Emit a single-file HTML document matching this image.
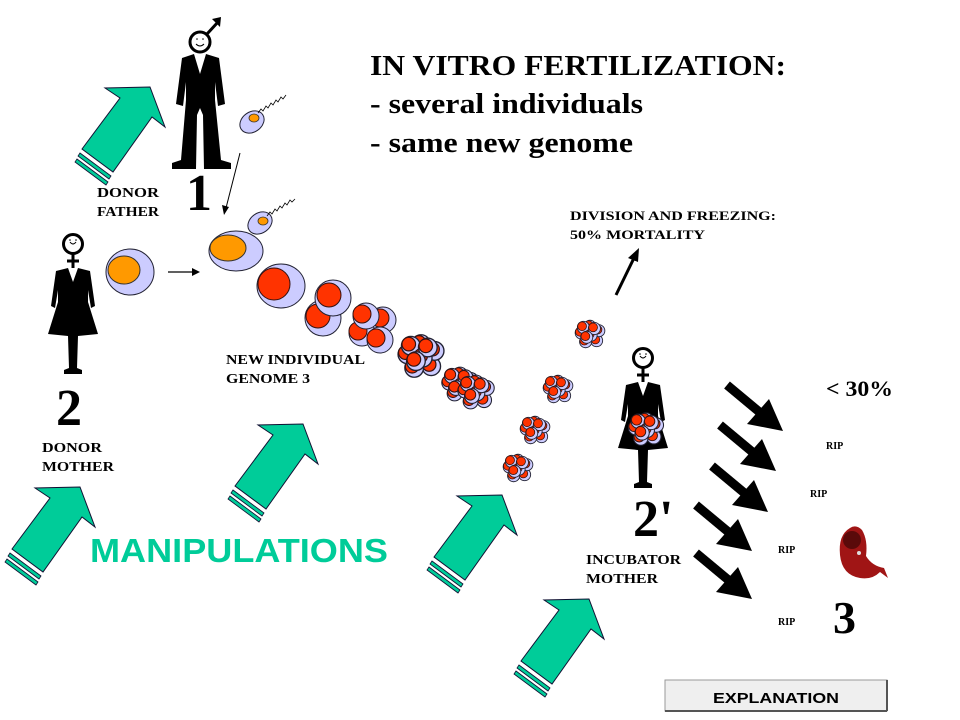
<!DOCTYPE html>
<html><head><meta charset="utf-8"><style>
html,body{margin:0;padding:0;background:#fff;}
svg{display:block;}
.t{font-family:"Liberation Serif",serif;font-weight:bold;fill:#000;}
</style></head><body>
<svg width="960" height="720" viewBox="0 0 960 720" xmlns="http://www.w3.org/2000/svg">
<defs>
  <g id="garrow" stroke="#113" stroke-width="1">
    <polygon points="12,549 50,498 35,488 80,487 95,527 82,517 43,572" fill="#00cc99"/>
    <polygon points="10,553 41,576 39,579 8,556" fill="#00cc99" stroke-width="0.8"/>
    <polygon points="7,559 38,582 36,585 5,562" fill="#00cc99" stroke-width="0.8"/>
  </g>
  <g id="fem">
    <circle cx="0" cy="0" r="9.5" fill="#fff" stroke="#000" stroke-width="3"/>
    <path d="M-3,-2 Q0,2 3,-2" fill="none" stroke="#000" stroke-width="1"/>
    <circle cx="-3" cy="-4" r="0.8"/><circle cx="3" cy="-4" r="0.8"/>
    <line x1="0" y1="10" x2="0" y2="24" stroke="#000" stroke-width="3"/>
    <line x1="-6" y1="17" x2="6" y2="17" stroke="#000" stroke-width="3"/>
    <path d="M-5,24 L0,38 L5,24 L17,27 L22,62 L18,64 L15,46 L15,58 L25,90 L5,92 L4,124 L9,126 L9,130 L-9,130 L-9,126 L-4,124 L-5,92 L-25,90 L-15,58 L-15,46 L-18,64 L-22,62 L-17,27 Z" fill="#000"/>
  </g>
  <g id="mini"><circle r="5.5" fill="#ccccff" stroke="#223" stroke-width="0.8"/><circle cx="-1.2" cy="-1" r="4" fill="#ff3300" stroke="#311" stroke-width="0.7"/></g>
  <g id="clu">
    <use href="#mini" x="6" y="6"/><use href="#mini" x="-4" y="7"/><use href="#mini" x="8" y="-3"/>
    <use href="#mini" x="-8" y="-1"/><use href="#mini" x="0" y="-7"/><use href="#mini" x="-6" y="-6"/>
    <use href="#mini" x="1" y="1"/><use href="#mini" x="4" y="-5"/><use href="#mini" x="-3" y="3"/>
  </g>
  <g id="barr"><line x1="0" y1="0" x2="36" y2="30" stroke="#000" stroke-width="9"/><polygon points="56,46 20,39 42,14" fill="#000"/></g>
</defs>

<use href="#garrow" x="70" y="-400"/>
<use href="#garrow" x="0" y="0"/>
<use href="#garrow" x="223" y="-63"/>
<use href="#garrow" x="422" y="8"/>
<use href="#garrow" x="509" y="112"/>

<!-- male -->
<g>
  <circle cx="200" cy="42" r="10" fill="#fff" stroke="#000" stroke-width="3"/>
  <path d="M196,44 Q200,48 204,44" fill="none" stroke="#000" stroke-width="1"/>
  <circle cx="197" cy="39" r="0.8"/><circle cx="203" cy="39" r="0.8"/>
  <line x1="207" y1="34" x2="218" y2="22" stroke="#000" stroke-width="3"/>
  <polygon points="221,17 212,19 220,27" fill="#000"/>
  <path d="M194,54 L200,74 L206,54 L219,58 L225,104 L218,106 L215,82 L215,100 L221,160 L231,163 L231,169 L204,169 L203,115 L200,108 L197,115 L196,169 L172,169 L172,163 L181,160 L186,100 L186,82 L183,106 L176,104 L182,58 Z" fill="#000"/>
</g>
<use href="#fem" x="73" y="244"/>
<use href="#fem" x="643" y="358"/>

<!-- sperms -->
<ellipse cx="252" cy="122" rx="13" ry="10" transform="rotate(-35 252 122)" fill="#ccccff" stroke="#223"/>
<ellipse cx="254" cy="118" rx="5" ry="4" fill="#ff9900" stroke="#333" stroke-width="0.8"/>
<path d="M258,113 l3,-4 l2,2 l3,-5 l2,2 l3,-5 l2,2 l3,-5 l2,2 l3,-5 l2,2 l3,-4" fill="none" stroke="#000" stroke-width="0.8"/>
<ellipse cx="260" cy="223" rx="13" ry="10" transform="rotate(-35 260 223)" fill="#ccccff" stroke="#223"/>
<ellipse cx="263" cy="221" rx="5" ry="4" fill="#ff9900" stroke="#333" stroke-width="0.8"/>
<path d="M267,216 l3,-4 l2,2 l3,-5 l2,2 l3,-5 l2,2 l3,-5 l2,2 l3,-5 l2,2 l3,-3" fill="none" stroke="#000" stroke-width="0.8"/>

<ellipse cx="130" cy="272" rx="24" ry="23" fill="#ccccff" stroke="#223"/>
<ellipse cx="124" cy="270" rx="16" ry="14" fill="#ff9900" stroke="#333"/>
<ellipse cx="236" cy="251" rx="27" ry="20" fill="#ccccff" stroke="#223"/>
<ellipse cx="228" cy="248" rx="18" ry="13" fill="#ff9900" stroke="#333"/>
<ellipse cx="281" cy="286" rx="24" ry="22" fill="#ccccff" stroke="#223"/>
<circle cx="274" cy="284" r="16" fill="#ff3300" stroke="#311"/>
<circle cx="323" cy="318" r="18" fill="#ccccff" stroke="#223"/><circle cx="318" cy="316" r="12" fill="#ff3300" stroke="#311"/>
<circle cx="333" cy="298" r="18" fill="#ccccff" stroke="#223"/><circle cx="329" cy="295" r="12" fill="#ff3300" stroke="#311"/>
<circle cx="383" cy="320" r="13" fill="#ccccff" stroke="#223"/><circle cx="380" cy="318" r="9" fill="#ff3300" stroke="#311"/>
<circle cx="362" cy="333" r="13" fill="#ccccff" stroke="#223"/><circle cx="358" cy="331" r="9" fill="#ff3300" stroke="#311"/>
<circle cx="380" cy="340" r="13" fill="#ccccff" stroke="#223"/><circle cx="376" cy="338" r="9" fill="#ff3300" stroke="#311"/>
<circle cx="366" cy="316" r="13" fill="#ccccff" stroke="#223"/><circle cx="362" cy="314" r="9" fill="#ff3300" stroke="#311"/>
<g transform="translate(421,356) scale(1.7)"><use href="#clu"/></g>
<g transform="translate(460,384) scale(1.35)"><use href="#clu"/></g>
<g transform="translate(476,392) scale(1.35)"><use href="#clu"/></g>
<g transform="translate(590,334) scale(1.1)"><use href="#clu"/></g>
<g transform="translate(558,389) scale(1.1)"><use href="#clu"/></g>
<g transform="translate(535,430) scale(1.1)"><use href="#clu"/></g>
<g transform="translate(518,468) scale(1.1)"><use href="#clu"/></g>
<g transform="translate(646,429) scale(1.3)"><use href="#clu"/></g>

<line x1="240" y1="153" x2="226" y2="208" stroke="#000" stroke-width="1"/>
<polygon points="224,215 222,205 229,207" fill="#000"/>
<line x1="168" y1="272" x2="193" y2="272" stroke="#000" stroke-width="1.2"/>
<polygon points="200,272 192,268 192,276" fill="#000"/>
<line x1="616" y1="295" x2="634" y2="258" stroke="#000" stroke-width="3"/>
<polygon points="639,248 628,258 638,262" fill="#000"/>

<use href="#barr" x="727" y="385"/>
<use href="#barr" x="720" y="425"/>
<use href="#barr" x="712" y="466"/>
<use href="#barr" x="696" y="505"/>
<use href="#barr" x="696" y="553"/>

<!-- fetus -->
<g>
  <path d="M850,528 Q838,535 840,555 Q842,575 860,578 Q872,580 880,572 L888,578 L884,568 Q872,566 866,556 Q868,540 862,530 Q856,524 850,528 Z" fill="#a01515"/>
  <ellipse cx="852" cy="540" rx="9" ry="9" fill="#5a0a0a"/>
  <circle cx="859" cy="553" r="2" fill="#ddd"/>
</g>

<text class="t" x="370" y="75" font-size="28" textLength="416" lengthAdjust="spacingAndGlyphs">IN VITRO FERTILIZATION:</text>
<text class="t" x="370" y="113" font-size="28" textLength="273" lengthAdjust="spacingAndGlyphs">- several individuals</text>
<text class="t" x="370" y="152" font-size="28" textLength="263" lengthAdjust="spacingAndGlyphs">- same new genome</text>
<text class="t" x="97" y="197" font-size="14" textLength="62" lengthAdjust="spacingAndGlyphs">DONOR</text>
<text class="t" x="97" y="216" font-size="14" textLength="62" lengthAdjust="spacingAndGlyphs">FATHER</text>
<text class="t" x="186" y="210" font-size="52">1</text>
<text class="t" x="56" y="425" font-size="52">2</text>
<text class="t" x="42" y="452" font-size="14" textLength="60" lengthAdjust="spacingAndGlyphs">DONOR</text>
<text class="t" x="42" y="471" font-size="14" textLength="72" lengthAdjust="spacingAndGlyphs">MOTHER</text>
<text class="t" x="226" y="364" font-size="14" textLength="139" lengthAdjust="spacingAndGlyphs">NEW INDIVIDUAL</text>
<text class="t" x="226" y="383" font-size="14" textLength="84" lengthAdjust="spacingAndGlyphs">GENOME 3</text>
<text class="t" x="570" y="220" font-size="13" textLength="206" lengthAdjust="spacingAndGlyphs">DIVISION AND FREEZING:</text>
<text class="t" x="570" y="239" font-size="13" textLength="135" lengthAdjust="spacingAndGlyphs">50%  MORTALITY</text>
<text class="t" x="633" y="536" font-size="52">2'</text>
<text class="t" x="586" y="564" font-size="14" textLength="95" lengthAdjust="spacingAndGlyphs">INCUBATOR</text>
<text class="t" x="586" y="583" font-size="14" textLength="72" lengthAdjust="spacingAndGlyphs">MOTHER</text>
<text class="t" x="826" y="396" font-size="22" textLength="67" lengthAdjust="spacingAndGlyphs">&lt; 30%</text>
<text class="t" x="826" y="449" font-size="10">RIP</text>
<text class="t" x="810" y="497" font-size="10">RIP</text>
<text class="t" x="778" y="553" font-size="10">RIP</text>
<text class="t" x="778" y="625" font-size="10">RIP</text>
<text class="t" x="833" y="633" font-size="46">3</text>
<text x="90" y="562" font-family="Liberation Sans, sans-serif" font-weight="bold" font-size="33" fill="#00cc99" textLength="298" lengthAdjust="spacingAndGlyphs">MANIPULATIONS</text>

<rect x="665" y="680" width="222" height="31" fill="#efefef" stroke="#999"/>
<line x1="665" y1="711" x2="887" y2="711" stroke="#555" stroke-width="2"/>
<line x1="887" y1="680" x2="887" y2="711" stroke="#555" stroke-width="2"/>
<text x="776" y="703" text-anchor="middle" font-family="Liberation Sans, sans-serif" font-weight="bold" font-size="15" fill="#000" textLength="126" lengthAdjust="spacingAndGlyphs">EXPLANATION</text>
</svg>
</body></html>
